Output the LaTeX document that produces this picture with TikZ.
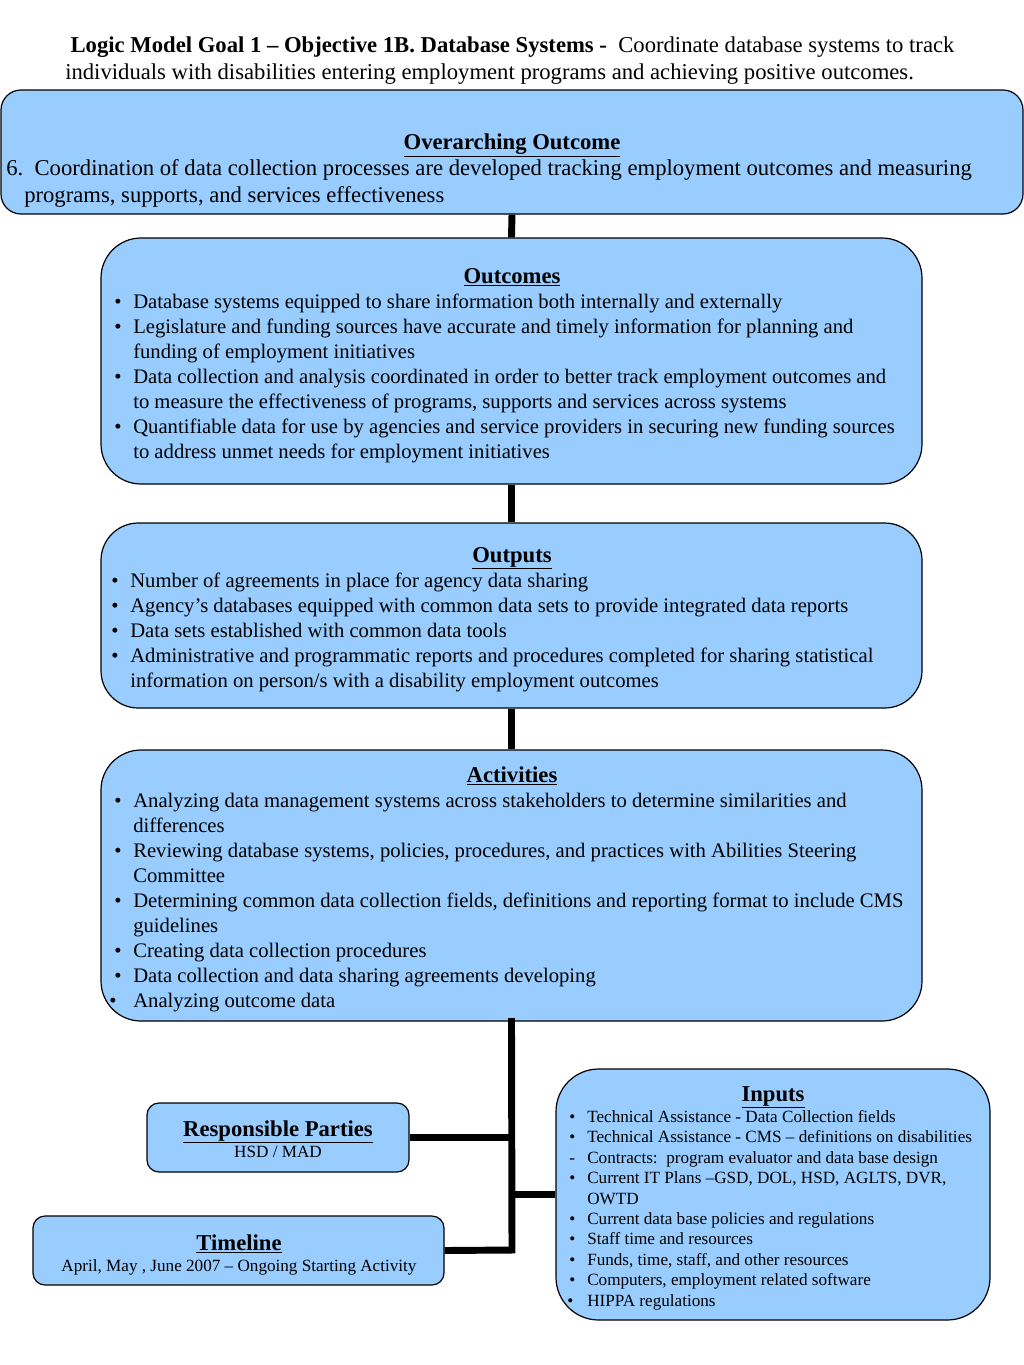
\documentclass[tikz,border=0pt]{standalone}
\usepackage{fontspec}
\setmainfont{Liberation Serif}
\usetikzlibrary{fit}
\definecolor{boxblue}{HTML}{99CCFF}
\newcommand{\fA}{\fontsize{17}{20.25}\selectfont}
\newcommand{\fB}{\fontsize{15.5}{18.75}\selectfont}
\newcommand{\fC}{\fontsize{12.85}{15.3}\selectfont}
\newcommand{\fT}{\fontsize{17}{20}\selectfont\bfseries}
\newcommand{\bl}{\makebox[14.25pt][l]{\textbullet}}
\newcommand{\ct}{\hspace*{14.25pt}}
\newcommand{\ib}{\makebox[13.5pt][l]{\textbullet}}
\newcommand{\ic}{\hspace*{13.5pt}}
\tikzset{
  box/.style={draw=black, line width=0.9pt, fill=boxblue, inner sep=0pt},
  conn/.style={line width=5.2pt, black},
  txt/.style={inner sep=0pt, anchor=base west, align=left},
  ttl/.style={inner sep=0pt, anchor=base, font=\fT},
}
\begin{document}
\begin{tikzpicture}[x=0.75pt, y=-0.75pt]
\useasboundingbox (0,0) rectangle (1024,1365);
\fill[white] (0,0) rectangle (1024,1365);

% header (anchored at the baseline of its last line)
\node[txt, font=\fA] (head) at (65,79) {\hspace*{4pt}\textbf{Logic Model Goal 1 – Objective 1B. Database Systems -}\ \ Coordinate database systems to track\\individuals with disabilities entering employment programs and achieving positive outcomes.};

% boxes
\node[box, rounded corners=15pt, fit={(1,90) (1023,214)}] (oo) {};
\node[box, rounded corners=30pt, fit={(101,238) (922,484)}] (oc) {};
\node[box, rounded corners=28pt, fit={(101,523) (922,708)}] (op) {};
\node[box, rounded corners=30pt, fit={(101,750) (922,1021)}] (ac) {};
\node[box, rounded corners=32pt, fit={(556,1069) (990,1320)}] (in) {};
\node[box, rounded corners=9pt, fit={(147,1103) (409,1172)}] (rp) {};
\node[box, rounded corners=9pt, fit={(33,1216) (444,1285)}] (tl) {};

% connectors
\coordinate (j) at (512,1250);
\draw[conn] (oo.south) -- (oc.north);
\draw[conn] (oc.south) -- (op.north);
\draw[conn] (op.south) -- (ac.north);
\draw[conn, line cap=rect] (ac.south) -- (j);
\draw[conn] (rp.east) -- (rp.east -| j);
\draw[conn] (in.west -| j) -- (in.west);
\draw[conn] (tl.east) -- (j);

% overarching
\node[ttl] (ootitle) at (512,149) {\underline{Overarching Outcome}};
\node[txt, font=\fA] (ootext) at (6,202) {6.\ \ Coordination of data collection processes are developed tracking employment outcomes and measuring\\\hspace*{13.5pt}programs, supports, and services effectiveness};

% outcomes
\node[ttl] (octitle) at (512,283) {\underline{Outcomes}};
\node[txt, font=\fB] (octext) at (114,458) {\bl Database systems equipped to share information both internally and externally\\
\bl Legislature and funding sources have accurate and timely information for planning and\\
\ct funding of employment initiatives\\
\bl Data collection and analysis coordinated in order to better track employment outcomes and\\
\ct to measure the effectiveness of programs, supports and services across systems\\
\bl Quantifiable data for use by agencies and service providers in securing new funding sources\\
\ct to address unmet needs for employment initiatives};

% outputs
\node[ttl] (optitle) at (512,562) {\underline{Outputs}};
\node[txt, font=\fB] (optext) at (111,687) {\bl Number of agreements in place for agency data sharing\\
\bl Agency’s databases equipped with common data sets to provide integrated data reports\\
\bl Data sets established with common data tools\\
\bl Administrative and programmatic reports and procedures completed for sharing statistical\\
\ct information on person/s with a disability employment outcomes};

% activities
\node[ttl] (actitle) at (512,782) {\underline{Activities}};
\node[txt, font=\fB] (actext) at (114,1007) {\bl Analyzing data management systems across stakeholders to determine similarities and\\
\ct differences\\
\bl Reviewing database systems, policies, procedures, and practices with Abilities Steering\\
\ct Committee\\
\bl Determining common data collection fields, definitions and reporting format to include CMS\\
\ct guidelines\\
\bl Creating data collection procedures\\
\bl Data collection and data sharing agreements developing\\
\hspace*{-3.75pt}\bl\hspace*{3.75pt}Analyzing outcome data};

% inputs
\node[ttl] (intitle) at (773,1101) {\underline{Inputs}};
\node[txt, font=\fC] (intext) at (569,1306) {\ib Technical Assistance - Data Collection fields\\
\ib Technical Assistance - CMS – definitions on disabilities\\
\makebox[13.5pt][l]{-}Contracts:\ \ program evaluator and data base design\\
\ib Current IT Plans –GSD, DOL, HSD, AGLTS, DVR,\\
\ic OWTD\\
\ib Current data base policies and regulations\\
\ib Staff time and resources\\
\ib Funds, time, staff, and other resources\\
\ib Computers, employment related software\\
\hspace*{-1.5pt}\ib\hspace*{1.5pt}HIPPA regulations};

% responsible parties
\node[ttl] (rptitle) at (278,1136) {\underline{Responsible Parties}};
\node[inner sep=0pt, anchor=base, font=\fC] (rptext) at (278,1157) {HSD / MAD};

% timeline
\node[ttl] (tltitle) at (239,1250) {\underline{Timeline}};
\node[inner sep=0pt, anchor=base, font=\fC] (tltext) at (239,1271) {April, May , June 2007 – Ongoing Starting Activity};
\end{tikzpicture}
\end{document}
